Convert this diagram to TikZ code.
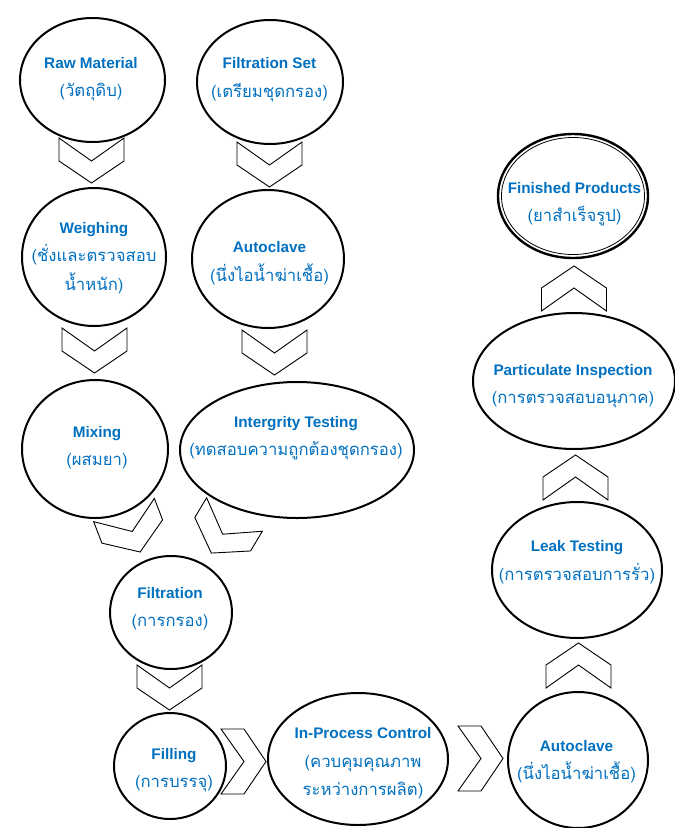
\documentclass[tikz,border=0pt]{standalone}
\usepackage{fontspec}
\usetikzlibrary{shapes.geometric}
\setmainfont{Liberation Sans}
\newfontfamily\thaifont[Script=Thai]{Loma}
\newcommand{\thaitext}[1]{{\thaifont\mdseries\fontsize{16.7}{28.5}\selectfont #1}}
\definecolor{stageblue}{RGB}{0,112,192}
\tikzset{
  stage/.style 2 args={ellipse, draw, line width=2pt, fill=white, inner sep=0pt,
    minimum width=#1, minimum height=#2},
  txt/.style={align=center, text=stageblue, inner sep=0pt,
    font=\fontsize{15.3}{28.5}\selectfont\bfseries},
  chevline/.style={draw, line width=0.9pt, fill=white, line join=miter},
  chevron/.pic={
    \path[chevline] (-32.5,0) -- (0,23) -- (32.5,0) -- (32.5,23) -- (0,45) -- (-32.5,23) -- cycle;
  },
}

\begin{document}
\begin{tikzpicture}[x=1pt, y=-1pt]
  \useasboundingbox (0,0) rectangle (675,828);

  % chevrons between the stages
  \pic at (91.5,138) {chevron};
  \pic at (269.5,142) {chevron};
  \pic at (94.5,328) {chevron};
  \pic at (274.5,330) {chevron};
  \pic[rotate=21] at (124,510) {chevron};
  \pic[rotate=-31] at (234.5,514.5) {chevron};
  \pic at (169.5,665) {chevron};
  \pic[rotate=90] at (221,761.5) {chevron};
  \pic[rotate=90] at (458,758.5) {chevron};
  \pic[rotate=180] at (578.5,688) {chevron};
  \pic[rotate=180] at (575.5,500) {chevron};
  \pic[rotate=180] at (574,311) {chevron};

  % stages
  \node[stage={145pt}{124pt}] (raw) at (92.5,80) {};
  \node[stage={146pt}{124pt}] (fset) at (270,82) {};
  \node[stage={144pt}{138pt}] (weigh) at (94,257) {};
  \node[stage={152pt}{138pt}] (auto1) at (268,259) {};
  \node[stage={146pt}{138pt}] (mix) at (95,449) {};
  \node[stage={234pt}{136pt}] (integ) at (297,450) {};
  \node[stage={122pt}{113pt}] (filt) at (171,612.5) {};
  \node[stage={112pt}{106pt}] (fill) at (170,766) {};
  \node[stage={180pt}{132pt}] (ipc) at (358,759) {};
  \node[stage={140pt}{136pt}] (auto2) at (578,760) {};
  \node[stage={170pt}{136pt}] (leak) at (577,570) {};
  \node[stage={202pt}{136pt}] (part) at (574,381) {};
  \node[stage={150pt}{124pt}, line width=2.4pt] (fin) at (573,196) {};
  \draw[line width=0.8pt] (fin.center) ellipse [x radius=71.5, y radius=58.5];

  % texts
  \node[txt] (raw-t) at (91,79) {Raw Material\\\thaitext{(วัตถุดิบ)}};
  \node[txt] (fset-t) at (269.5,79.5) {Filtration Set\\\thaitext{(เตรียมชุดกรอง)}};
  \node[txt] (weigh-t) at (94,258) {Weighing\\\thaitext{(ชั่งและตรวจสอบ}\\\thaitext{น้ำหนัก)}};
  \node[txt] (auto1-t) at (269.5,263) {Autoclave\\\thaitext{(นึ่งไอน้ำฆ่าเชื้อ)}};
  \node[txt] (mix-t) at (97,447.5) {Mixing\\\thaitext{(ผสมยา)}};
  \node[txt] (integ-t) at (296,438) {Intergrity Testing\\\thaitext{(ทดสอบความถูกต้องชุดกรอง)}};
  \node[txt] (filt-t) at (170,608.5) {Filtration\\\thaitext{(การกรอง)}};
  \node[txt] (fill-t) at (174,770) {Filling\\\thaitext{(การบรรจุ)}};
  \node[txt] (ipc-t) at (363,763.5) {In-Process Control\\\thaitext{(ควบคุมคุณภาพ}\\\thaitext{ระหว่างการผลิต)}};
  \node[txt] (auto2-t) at (576.5,761.5) {Autoclave\\\thaitext{(นึ่งไอน้ำฆ่าเชื้อ)}};
  \node[txt] (leak-t) at (577,562) {Leak Testing\\\thaitext{(การตรวจสอบการรั่ว)}};
  \node[txt] (part-t) at (573,386) {Particulate Inspection\\\thaitext{(การตรวจสอบอนุภาค)}};
  \node[txt] (fin-t) at (574.5,204) {Finished Products\\\thaitext{(ยาสำเร็จรูป)}};
\end{tikzpicture}
\end{document}
